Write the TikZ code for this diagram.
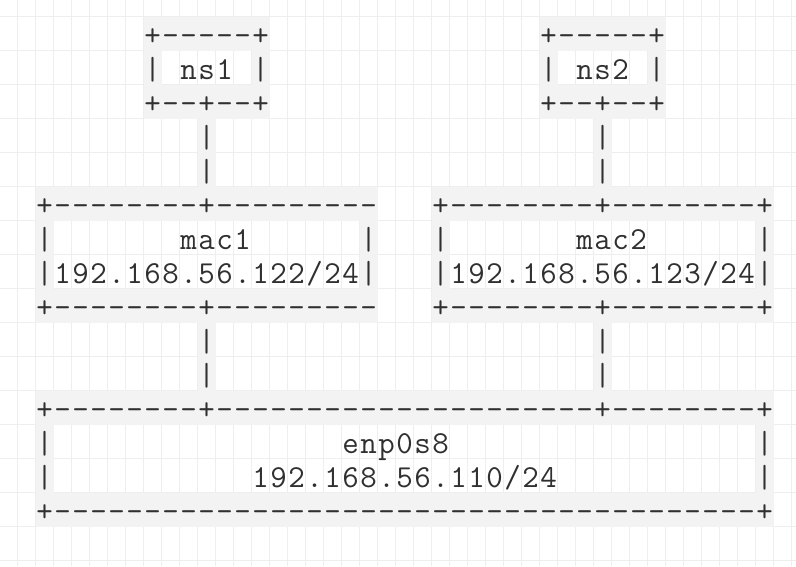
\documentclass[tikz,border=0pt]{standalone}
\definecolor{gridc}{HTML}{EEEEEE}
\definecolor{cellc}{HTML}{F3F3F3}
\definecolor{inkc}{HTML}{303030}
\tikzset{
  txt/.style={anchor=base, inner sep=0pt, outer sep=0pt, text=inkc,
    font=\ttfamily\fontsize{32}{36}\selectfont},
  gridline/.style={draw=gridc, line width=1.5pt},
  cellfill/.style={fill=cellc}
}
\makeatletter
% \PS{row}{start column}{characters}: one named node per character cell
\def\PS#1#2#3{\def\ps@row{#1}\def\ps@col{#2}\ps@loop#3\ps@end}
\def\ps@end{\ps@end}
\def\ps@loop#1{%
  \ifx#1\ps@end
  \else
    \node[txt,name=c\ps@row-\ps@col] at ({44.5+18*\ps@col},{16.5+34*\ps@row+29}) {#1};%
    \edef\ps@col{\the\numexpr\ps@col+1\relax}%
    \expandafter\ps@loop
  \fi}
\makeatother
% row r, columns a..b grey
\newcommand\GC[3]{\fill[cellfill] ({35.5+18*#2},{16.5+34*#1}) rectangle ({35.5+18*#3+18},{16.5+34*#1+34});}
\begin{document}
\begin{tikzpicture}[x=1pt,y=-1pt]
\useasboundingbox (0,0) rectangle (796,566);
\fill[white] (0,0) rectangle (796,566);
% grid
\foreach \k in {1,...,44} {\draw[gridline] ({18*\k-0.5},0) -- ({18*\k-0.5},566);}
\foreach \k in {0,...,16} {\draw[gridline] (0,{16.5+34*\k}) -- (796,{16.5+34*\k});}
% grey cells behind box characters
\GC{0}{6}{12}\GC{0}{28}{34}
\GC{1}{6}{6}\GC{1}{12}{12}\GC{1}{28}{28}\GC{1}{34}{34}
\GC{2}{6}{12}\GC{2}{28}{34}
\GC{3}{9}{9}\GC{3}{31}{31}
\GC{4}{9}{9}\GC{4}{31}{31}
\GC{5}{0}{18}\GC{5}{22}{40}
\GC{6}{0}{0}\GC{6}{18}{18}\GC{6}{22}{22}\GC{6}{40}{40}
\GC{7}{0}{0}\GC{7}{18}{18}\GC{7}{22}{22}\GC{7}{40}{40}
\GC{8}{0}{18}\GC{8}{22}{40}
\GC{9}{9}{9}\GC{9}{31}{31}
\GC{10}{9}{9}\GC{10}{31}{31}
\GC{11}{0}{40}
\GC{12}{0}{0}\GC{12}{40}{40}
\GC{13}{0}{0}\GC{13}{40}{40}
\GC{14}{0}{40}
% ns1 / ns2 boxes
\PS{0}{6}{+-----+}
\PS{0}{28}{+-----+}
\PS{1}{6}{|}\PS{1}{8}{ns1}\PS{1}{12}{|}
\PS{1}{28}{|}\PS{1}{30}{ns2}\PS{1}{34}{|}
\PS{2}{6}{+--+--+}
\PS{2}{28}{+--+--+}
% links ns -> mac
\PS{3}{9}{|}\PS{3}{31}{|}
\PS{4}{9}{|}\PS{4}{31}{|}
% mac1 / mac2 boxes
\PS{5}{0}{+--------+---------}
\PS{5}{22}{+--------+--------+}
\PS{6}{0}{|}\PS{6}{8}{mac1}\PS{6}{18}{|}
\PS{6}{22}{|}\PS{6}{30}{mac2}\PS{6}{40}{|}
\PS{7}{0}{|192.168.56.122/24|}
\PS{7}{22}{|192.168.56.123/24|}
\PS{8}{0}{+--------+---------}
\PS{8}{22}{+--------+--------+}
% links mac -> enp0s8
\PS{9}{9}{|}\PS{9}{31}{|}
\PS{10}{9}{|}\PS{10}{31}{|}
% enp0s8 box
\PS{11}{0}{+--------+---------------------+--------+}
\PS{12}{0}{|}\PS{12}{17}{enp0s8}\PS{12}{40}{|}
\PS{13}{0}{|}\PS{13}{12}{192.168.56.110/24}\PS{13}{40}{|}
\PS{14}{0}{+---------------------------------------+}
\end{tikzpicture}
\end{document}
